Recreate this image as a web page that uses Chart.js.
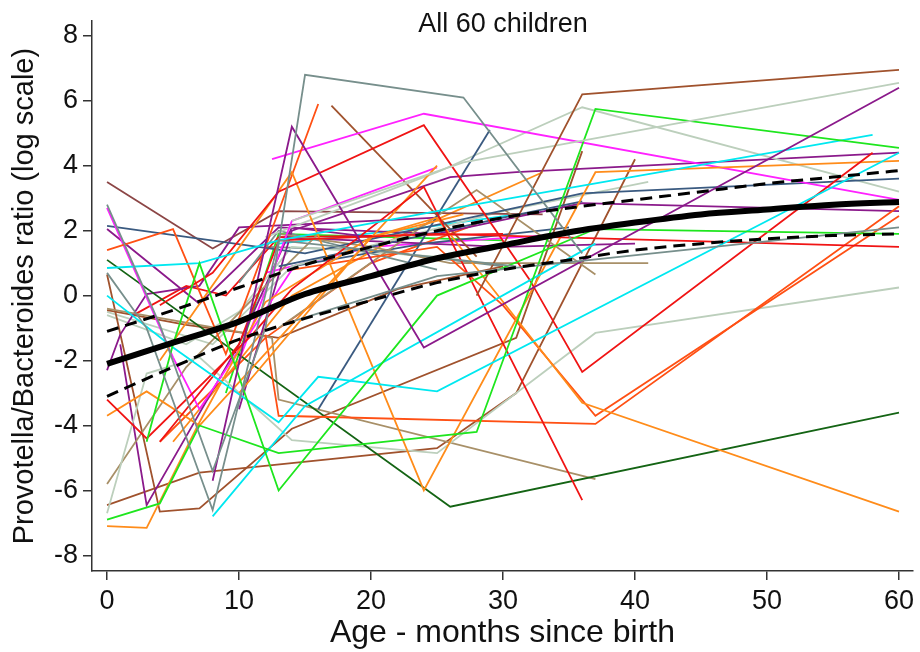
<!DOCTYPE html>
<html>
<head>
<meta charset="utf-8">
<script src="https://cdn.jsdelivr.net/npm/chart.js@4.4.1/dist/chart.umd.min.js"></script>
<style>
  html, body { margin: 0; padding: 0; background: #fff; }
  #wrap { width: 920px; height: 652px; }
</style>
</head>
<body>
<div id="wrap"><canvas id="chart" width="920" height="652"></canvas></div>
<script>
// ---- data ----
var xTicks = [0, 10, 20, 30, 40, 50, 60];
var yTicks = [-8, -6, -4, -2, 0, 2, 4, 6, 8];

// fitted mean and its band
var fitAges  = [0, 5, 10, 15, 20, 25, 30, 35, 40, 45, 50, 55, 60];
var fitMean  = [-2.1, -1.45, -0.8, 0.05, 0.6, 1.15, 1.55, 1.95, 2.25, 2.5, 2.65, 2.8, 2.88];
var fitUpper = [-1.1, -0.45, 0.25, 0.95, 1.5, 2.0, 2.4, 2.7, 2.95, 3.2, 3.45, 3.65, 3.85];
var fitLower = [-3.1, -2.2, -1.35, -0.7, -0.15, 0.4, 0.8, 1.1, 1.4, 1.6, 1.75, 1.85, 1.9];

// one entry per child: ages (months) and log ratios
var childAges = [
  [0, 4, 8, 12, 15, 27, 36],
  [0, 3, 8, 13, 20, 31],
  [14, 25, 60],
  [28, 36, 60],
  [14, 27, 60],
  [8, 14, 24, 60],
  [0, 4, 7, 13, 28, 37, 60],
  [3, 5, 7, 13, 25, 37, 60],
  [0, 7, 13, 25, 58],
  [0, 5, 13, 16, 25, 60],
  [8, 15, 37],
  [4, 8, 13, 24, 32, 36, 58],
  [0, 3, 11, 14, 24, 36],
  [4, 10, 13, 25, 60],
  [4, 14, 24, 37, 60],
  [10, 20, 25, 36, 60],
  [0, 5, 9, 16],
  [0, 3, 7, 25],
  [0, 3, 7, 12, 20, 27],
  [12, 13, 37, 60],
  [14, 25, 30, 37, 60],
  [12.5, 24, 60],
  [0, 5, 7, 14],
  [10, 14, 25],
  [0, 26, 60],
  [0, 15, 36, 60],
  [16, 29],
  [13, 20, 30, 36],
  [0, 3, 7, 14, 25, 37, 60],
  [12, 25, 36, 60],
  [0, 6, 12, 16],
  [0, 12.5, 13, 37],
  [13, 25, 28, 37],
  [13, 20, 26, 41],
  [0, 7, 13, 25, 36, 60],
  [10, 14, 26, 31, 60],
  [1, 3, 10, 14, 20],
  [0, 1, 3, 7, 10, 25],
  [0, 8, 13, 33],
  [17, 28],
  [0, 7, 25, 31, 40],
  [0, 4, 7, 14, 31, 36],
  [0, 6, 13, 22, 30],
  [10, 13, 25],
  [0, 8, 14, 30, 41],
  [2, 6, 9, 13, 30],
  [5, 14, 22, 33],
  [14, 24, 35],
  [13, 30, 40],
  [4, 12, 20, 28],
  [12, 20, 35],
  [0, 6, 10, 14, 25],
  [12, 20, 30],
  [13, 24, 31],
  [9, 13, 30]
];
var childRatios = [
  [2.8, -0.9, -5.4, -1.0, 6.8, 6.1, 1.3],
  [0.7, -1.0, -6.6, 1.7, 1.4, 0.9],
  [-0.8, 0.6, 2.1],
  [0.0, 6.2, 6.95],
  [2.3, 4.1, 6.55],
  [-5.7, 5.2, -1.6, 6.4],
  [-6.9, -6.4, -4.0, -4.85, -4.2, 5.75, 4.55],
  [-4.5, -1.5, 1.0, -6.0, 0.0, 2.05, 1.9],
  [0.85, 1.0, 1.7, 2.6, 4.95],
  [0, -1.6, -3.9, -2.5, -2.95, 4.4],
  [-6.8, -3.4, 1.6],
  [-0.3, 0.7, 3.2, 5.25, 0.5, -2.35, 4.4],
  [-3.2, -4.4, -1.2, 0.2, 3.35, -6.3],
  [-4.5, -1.5, 1.7, 1.9, 1.5],
  [-2.0, 3.8, -6.0, 3.8, 4.15],
  [-3.0, 1.8, 2.4, -3.3, -6.65],
  [1.4, 2.05, -1.8, 5.9],
  [-3.7, -2.95, -4.0, 4.0],
  [-7.1, -7.15, -3.9, -0.2, 1.8, 2.5],
  [-1.2, -3.7, -3.95, 2.75],
  [0.8, 1.5, -0.3, -3.7, 2.45],
  [4.2, 5.6, 2.95],
  [2.7, -1.9, -3.5, 0.8],
  [-2.0, 2.3, 3.95],
  [1.1, -6.5, -3.6],
  [2.15, 1.3, 3.15, 3.6],
  [-3.5, 5.1],
  [0.9, 1.5, 2.4, 2.9],
  [-6.7, -2.4, -1.9, -4.45, -4.85, -1.15, 0.25],
  [1.8, 3.8, 5.8, 3.2],
  [-5.8, -2.2, 0.3, 1.9],
  [-0.4, -1.3, -3.2, -5.65],
  [-1.0, 2.45, 3.25, 0.65],
  [1.9, 1.5, 1.0, 1.0],
  [2.05, -0.25, 2.1, 1.9, 2.85, 2.6],
  [-3.5, 2.0, 3.65, 3.8, 4.4],
  [-1.5, -6.45, -1.5, 2.1, 1.8],
  [-2.3, -1.2, 0.05, 0.3, 2.1, 2.4],
  [3.5, 1.45, 2.6, 2.5],
  [5.85, 1.2],
  [-6.45, -5.45, -4.7, -3.0, 4.2],
  [0.65, -6.65, -6.55, -4.1, -1.3, 4.45],
  [-0.45, -0.9, -1.3, 0.2, 0.9],
  [0.4, 2.0, 0.8],
  [-0.5, -1.5, 0.9, 2.6, 3.5],
  [-0.6, 0.3, 0.0, 1.8, 1.9],
  [-4.5, 0.0, 1.8, 3.8],
  [0.9, 1.6, 2.1],
  [1.8, 1.5, 1.6],
  [-4.5, -1.3, 1.0, 2.2],
  [0.7, 1.5, 1.9],
  [-0.6, -1.5, -0.5, 1.5, 1.2],
  [1.5, 1.4, 0.9],
  [1.6, 2.1, 2.5],
  [-3.0, 1.9, 1.7]
];

// line colours, one per child
var grey = '#778f8c', brown = '#a0522d', dbrown = '#8c4646', lgrey = '#bccfbc',
    purple = '#8b1a8b', green = '#1ee61e', cyan = '#00e8f0', red = '#f01414',
    orange = '#ff8c1a', ored = '#ff5014', magenta = '#ff22ff', dgreen = '#146414',
    dblue = '#3a5a80', tan = '#a89068';
var childColours = [
  grey, grey, grey, brown, lgrey, purple, green, green, cyan, cyan,
  cyan, red, red, red, orange, orange, ored, orange, orange, ored,
  ored, magenta, magenta, magenta, dgreen, dblue, dblue, dblue, lgrey, lgrey,
  tan, tan, tan, tan, purple, purple, purple, purple, dbrown, brown,
  brown, brown, brown, grey, lgrey, red, orange, dblue, purple, ored,
  magenta, lgrey, grey, cyan, green
];

function pairs(xs, ys) {
  return xs.map(function (x, i) { return { x: x, y: ys[i] }; });
}

var datasets = [];
datasets.push({ data: pairs(fitAges, fitMean), borderColor: '#000', borderWidth: 6,
  cubicInterpolationMode: 'monotone', order: -3 });
datasets.push({ data: pairs(fitAges, fitUpper), borderColor: '#000', borderWidth: 3,
  borderDash: [12, 7], cubicInterpolationMode: 'monotone', order: -2 });
datasets.push({ data: pairs(fitAges, fitLower), borderColor: '#000', borderWidth: 3,
  borderDash: [12, 7], cubicInterpolationMode: 'monotone', order: -2 });
childAges.forEach(function (ages, i) {
  datasets.push({ data: pairs(ages, childRatios[i]), borderColor: childColours[i],
    borderWidth: 1.8, tension: 0 });
});

var font = '"Liberation Sans", Arial, sans-serif';

// title drawn inside the plot
var innerTitle = {
  id: 'innerTitle',
  afterDraw: function (chart) {
    var c = chart.ctx;
    c.save();
    c.font = '27px ' + font;
    c.fillStyle = '#111';
    c.textAlign = 'center';
    c.textBaseline = 'middle';
    c.fillText('All 60 children', 503, 25);
    c.restore();
  }
};

new Chart(document.getElementById('chart').getContext('2d'), {
  type: 'line',
  data: { datasets: datasets },
  plugins: [innerTitle],
  options: {
    responsive: false,
    animation: false,
    devicePixelRatio: 1,
    layout: { padding: { top: 7, right: 7, left: 0, bottom: 0 } },
    elements: { point: { radius: 0 }, line: { fill: false } },
    plugins: { legend: { display: false }, tooltip: { enabled: false } },
    scales: {
      x: {
        type: 'linear', min: -1.14, max: 61.06,
        afterBuildTicks: function (axis) { axis.ticks = xTicks.map(function (v) { return { value: v }; }); },
        afterFit: function (scale) { scale.height = 81; },
        ticks: { font: { family: font, size: 27 }, color: '#111', padding: 5, maxRotation: 0 },
        grid: { drawOnChartArea: false, drawTicks: true, tickLength: 9, color: '#333', lineWidth: 1.5 },
        border: { display: true, color: '#333', width: 1.5 },
        title: { display: true, text: 'Age - months since birth', color: '#111',
          font: { family: font, size: 32 }, padding: { top: 0, bottom: 0 } }
      },
      y: {
        type: 'linear', min: -8.48, max: 8.45,
        afterBuildTicks: function (axis) { axis.ticks = yTicks.map(function (v) { return { value: v }; }); },
        afterFit: function (scale) { scale.width = 92; },
        ticks: { font: { family: font, size: 27 }, color: '#111', padding: 5 },
        grid: { drawOnChartArea: false, drawTicks: true, tickLength: 9, color: '#333', lineWidth: 1.5 },
        border: { display: true, color: '#333', width: 1.5 },
        title: { display: true, text: 'Provotella/Bacteroides ratio (log scale)', color: '#111',
          font: { family: font, size: 29 }, padding: { top: 8, bottom: 0 } }
      }
    }
  }
});
</script>
</body>
</html>
